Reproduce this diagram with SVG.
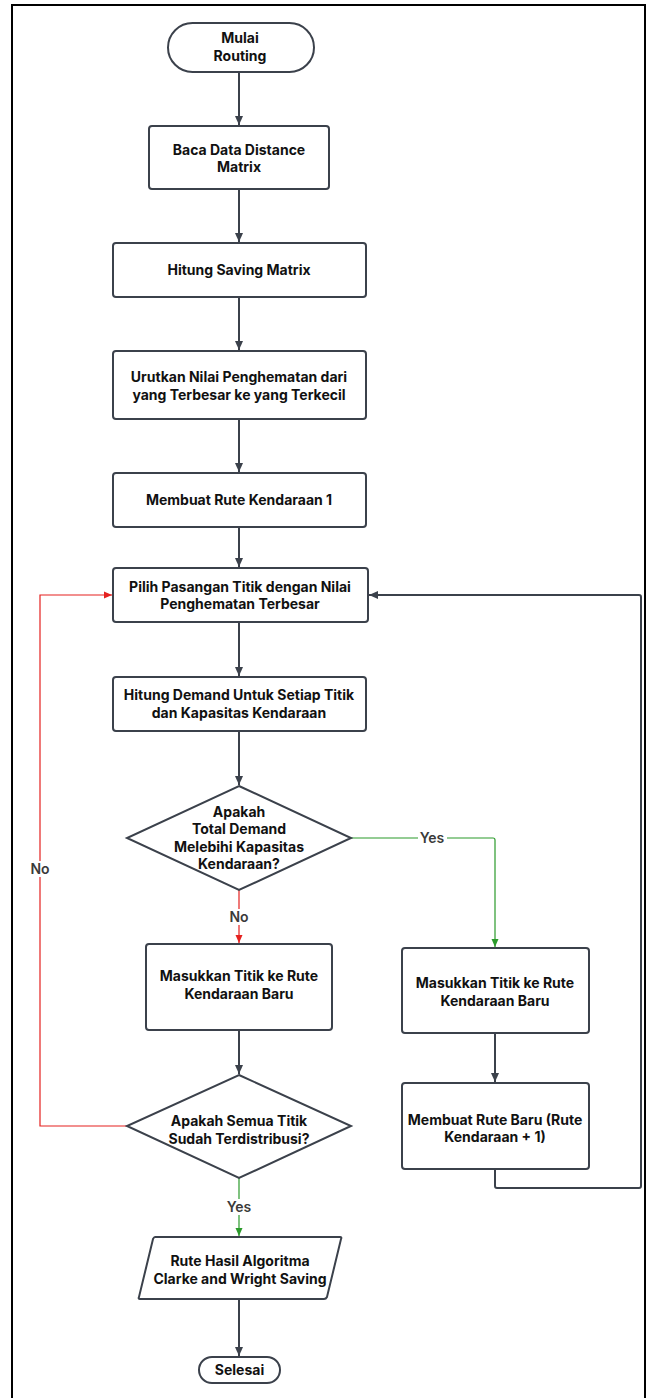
<svg xmlns="http://www.w3.org/2000/svg" width="648" height="1398" viewBox="0 0 648 1398">
<style>
.n{fill:#fff;stroke:#3b414b;stroke-width:2}
.t{font-family:Inter,"Liberation Sans",sans-serif;font-weight:700;font-size:14px;fill:#111;text-anchor:middle}
.c{fill:none;stroke:#3b414b;stroke-width:2}
.r{fill:none;stroke:#e5211f;stroke-width:1.2}
.g{fill:none;stroke:#2b9a2b;stroke-width:1.2}
.l{font-family:Inter,"Liberation Sans",sans-serif;font-weight:600;font-size:14px;fill:#3a3a3a;text-anchor:middle}
</style>
<defs>
<marker id="ag" markerWidth="10" markerHeight="10" refX="9" refY="5" orient="auto" markerUnits="userSpaceOnUse"><path d="M0,1 L9,5 L0,9 Z" fill="#3b414b"/></marker>
<marker id="ar" markerWidth="9" markerHeight="8" refX="8" refY="4" orient="auto" markerUnits="userSpaceOnUse"><path d="M0,0.5 L8,4 L0,7.5 Z" fill="#e5211f"/></marker>
<marker id="agr" markerWidth="9" markerHeight="8" refX="8" refY="4" orient="auto" markerUnits="userSpaceOnUse"><path d="M0,0.5 L8,4 L0,7.5 Z" fill="#2b9a2b"/></marker>
</defs>
<rect x="0" y="0" width="648" height="1398" fill="#fff"/>
<rect x="12" y="5" width="633" height="1394" fill="none" stroke="#000" stroke-width="2"/>

<g id="connectors">
<path class="c" d="M239,72 V125" marker-end="url(#ag)"/>
<path class="c" d="M239,189 V242" marker-end="url(#ag)"/>
<path class="c" d="M239,297 V350" marker-end="url(#ag)"/>
<path class="c" d="M239,419 V472" marker-end="url(#ag)"/>
<path class="c" d="M239,527 V567" marker-end="url(#ag)"/>
<path class="c" d="M239,622 V676" marker-end="url(#ag)"/>
<path class="c" d="M239,731 V785" marker-end="url(#ag)"/>
<path class="c" d="M239,1030 V1074" marker-end="url(#ag)"/>
<path class="c" d="M239,1299 V1356" marker-end="url(#ag)"/>
<path class="c" d="M495,1033 V1082" marker-end="url(#ag)"/>
<path class="c" d="M495,1169 V1186 Q495,1188 497,1188 H639 Q641,1188 641,1186 V597 Q641,595 639,595 H369" marker-end="url(#ag)"/>
<path class="r" d="M239,890 V943" marker-end="url(#ar)"/>
<path class="r" d="M127,1126 H40 V595 H112" marker-end="url(#ar)"/>
<path class="g" d="M351,838 H493 Q495,838 495,840 V947" marker-end="url(#agr)"/>
<path class="g" d="M239,1178 V1236" marker-end="url(#agr)"/>
<rect x="228" y="909" width="22" height="16" fill="#fff"/>
<text class="l" x="239" y="922">No</text>
<rect x="29" y="861" width="22" height="16" fill="#fff"/>
<text class="l" x="40" y="874">No</text>
<rect x="418" y="830" width="29" height="16" fill="#fff"/>
<text class="l" x="432" y="843">Yes</text>
<rect x="225" y="1199" width="29" height="16" fill="#fff"/>
<text class="l" x="239" y="1212">Yes</text>
</g>

<g id="start">
<rect class="n" x="168" y="23" width="146" height="49" rx="24.5"/>
<text class="t" x="240" y="43">Mulai</text>
<text class="t" x="240" y="61">Routing</text>
</g>
<g id="baca">
<rect class="n" x="149" y="126" width="180" height="63" rx="3"/>
<text class="t" x="239" y="155">Baca Data Distance</text>
<text class="t" x="239" y="172">Matrix</text>
</g>
<g id="hitung-saving">
<rect class="n" x="113" y="243" width="253" height="54" rx="3"/>
<text class="t" x="239" y="275">Hitung Saving Matrix</text>
</g>
<g id="urutkan">
<rect class="n" x="113" y="351" width="253" height="68" rx="3"/>
<text class="t" x="239" y="382">Urutkan Nilai Penghematan dari</text>
<text class="t" x="239" y="400">yang Terbesar ke yang Terkecil</text>
</g>
<g id="membuat-rute">
<rect class="n" x="113" y="473" width="253" height="54" rx="3"/>
<text class="t" x="239" y="505">Membuat Rute Kendaraan 1</text>
</g>
<g id="pilih">
<rect class="n" x="113" y="568" width="255" height="54" rx="3"/>
<text class="t" x="240" y="592">Pilih Pasangan Titik dengan Nilai</text>
<text class="t" x="240" y="609">Penghematan Terbesar</text>
</g>
<g id="hitung-demand">
<rect class="n" x="113" y="677" width="253" height="54" rx="3"/>
<text class="t" x="239" y="700">Hitung Demand Untuk Setiap Titik</text>
<text class="t" x="239" y="718">dan Kapasitas Kendaraan</text>
</g>
<g id="decision-kapasitas">
<path class="n" d="M239,786 L351,838 L239,890 L127,838 Z"/>
<text class="t" x="239" y="817">Apakah</text>
<text class="t" x="239" y="834">Total Demand</text>
<text class="t" x="239" y="852">Melebihi Kapasitas</text>
<text class="t" x="239" y="869">Kendaraan?</text>
</g>
<g id="masukkan-no">
<rect class="n" x="146" y="944" width="186" height="86" rx="3"/>
<text class="t" x="239" y="981">Masukkan Titik ke Rute</text>
<text class="t" x="239" y="999">Kendaraan Baru</text>
</g>
<g id="masukkan-yes">
<rect class="n" x="402" y="948" width="187" height="85" rx="3"/>
<text class="t" x="495" y="988">Masukkan Titik ke Rute</text>
<text class="t" x="495" y="1006">Kendaraan Baru</text>
</g>
<g id="membuat-rute-baru">
<rect class="n" x="402" y="1083" width="187" height="86" rx="3"/>
<text class="t" x="495" y="1125">Membuat Rute Baru (Rute</text>
<text class="t" x="495" y="1142">Kendaraan + 1)</text>
</g>
<g id="decision-distribusi">
<path class="n" d="M239,1075 L351,1126 L239,1178 L127,1126 Z"/>
<text class="t" x="239" y="1126">Apakah Semua Titik</text>
<text class="t" x="239" y="1144">Sudah Terdistribusi?</text>
</g>
<g id="hasil">
<path class="n" d="M155,1237 H340 Q342,1237 341,1239 L327,1297 Q326,1299 324,1299 H140 Q138,1299 139,1297 L153,1239 Q154,1237 155,1237 Z"/>
<text class="t" x="240" y="1266">Rute Hasil Algoritma</text>
<text class="t" x="240" y="1284">Clarke and Wright Saving</text>
</g>
<g id="selesai">
<rect class="n" x="199" y="1357" width="81" height="26" rx="13"/>
<text class="t" x="239.5" y="1375">Selesai</text>
</g>
</svg>
